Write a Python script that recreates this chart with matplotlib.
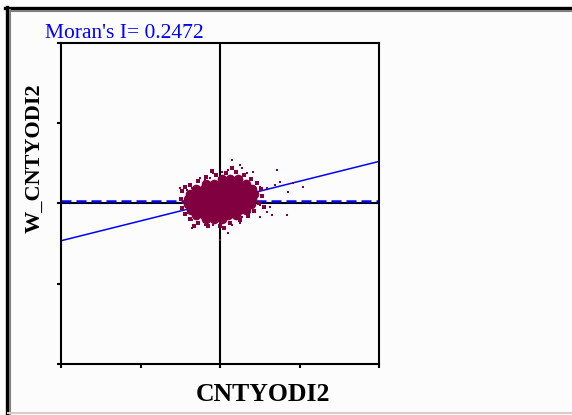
import matplotlib.pyplot as plt
from matplotlib.patches import Rectangle
from matplotlib.lines import Line2D

W, H = 572, 415

# Moran scatter plot values (standardised CNTYODI2 vs spatial lag)
morans_i = 0.2472
lag_mean = 0.06

# dense core of the cloud
core_x = [0.05, 0.25, 0.45,
          -0.35, -0.15, 0.05, 0.25, 0.45, 0.65,
          -0.60, -0.40, -0.20, 0.00, 0.20, 0.40, 0.60, 0.80,
          -0.75, -0.55, -0.35, -0.15, 0.05, 0.25, 0.45, 0.65, 0.85,
          -0.80, -0.60, -0.40, -0.20, 0.00, 0.20, 0.40, 0.60, 0.80,
          -0.80, -0.60, -0.40, -0.20, 0.00, 0.20, 0.40, 0.60, 0.78,
          -0.72, -0.52, -0.32, -0.12, 0.08, 0.28, 0.48, 0.65,
          -0.60, -0.40, -0.20, 0.00, 0.20, 0.40,
          -0.35, -0.15, 0.05]
core_y = [0.60, 0.60, 0.60,
          0.49, 0.49, 0.49, 0.49, 0.49, 0.49,
          0.37, 0.37, 0.37, 0.37, 0.37, 0.37, 0.37, 0.37,
          0.24, 0.24, 0.24, 0.24, 0.24, 0.24, 0.24, 0.24, 0.24,
          0.11, 0.11, 0.11, 0.11, 0.11, 0.11, 0.11, 0.11, 0.11,
          -0.02, -0.02, -0.02, -0.02, -0.02, -0.02, -0.02, -0.02, -0.02,
          -0.15, -0.15, -0.15, -0.15, -0.15, -0.15, -0.15, -0.15,
          -0.28, -0.28, -0.28, -0.28, -0.28, -0.28,
          -0.39, -0.39, -0.39]

# points hugging the edge of the core
edge_x = [-0.95, -0.98, -0.95, -0.88, -0.75, -0.55, -0.30, 0.00, 0.25, 0.50,
          0.70, 0.85, 0.98, 1.05, 1.02, 0.92, 0.78, 0.60, 0.40, 0.15,
          -0.10, -0.35, -0.55, -0.75, -0.88, 1.10, -0.20, 0.30, -0.65, 0.10]
edge_y = [0.30, 0.10, -0.10, -0.25, -0.38, -0.48, -0.55, -0.55, -0.48, -0.40,
          -0.30, -0.18, 0.00, 0.18, 0.35, 0.50, 0.62, 0.72, 0.78, 0.76,
          0.70, 0.65, 0.55, 0.45, 0.40, -0.08, 0.82, 0.88, -0.55, -0.62]

# scattered outliers
out_x = [0.30, 0.50, 0.55, 0.20, 0.05, -0.18, -0.25, -0.38, -0.50, -0.45,
         -0.58, -0.70, -0.83, -1.01, -1.01, -0.93, -0.96, -0.81, -0.70, -0.70,
         -0.55, -0.38, -0.18, 0.20, 0.30, 0.50, 0.55, 0.70, 0.75, 0.88,
         1.01, 1.18, 1.31, 1.69, 1.26, 1.01, 0.88, 0.81, 0.93, 1.01,
         1.18, 1.38, 1.51, 1.43, 2.09, 1.71, 1.84, 0.68, 0.83, 0.75,
         0.63, 0.70, 0.88, 0.00]
out_y = [1.08, 0.96, 0.89, 0.84, 0.79, 0.76, 0.64, 0.59, 0.64, 0.41,
         0.34, 0.39, 0.34, 0.39, 0.14, 0.01, -0.16, -0.24, -0.41, -0.61,
         -0.49, -0.54, -0.54, -0.74, -0.54, -0.49, -0.34, -0.34, -0.21, -0.21,
         -0.34, -0.21, -0.29, -0.29, -0.09, -0.04, 0.04, 0.21, 0.29, 0.41,
         0.39, 0.46, 0.54, 0.84, 0.41, 0.29, 0.51, 0.76, 0.79, 0.64,
         0.54, 0.41, 0.41, -0.91]

x_lim = (-4, 4)
y_lim = (-4, 4)
ticks = [-4, -2, 0, 2, 4]

point_color = "#800040"


def fx(px):
    return px / W


def fy(py):
    return 1 - py / H


fig = plt.figure(figsize=(W / 100, H / 100), dpi=100)
fig.patch.set_facecolor("white")

# window frame
fig.add_artist(Rectangle((fx(5), 0), 1 - fx(5), fy(8), transform=fig.transFigure,
                         facecolor="#fcfcfc", edgecolor="none", zorder=0))
fig.add_artist(Line2D([fx(5), 1], [fy(8.5), fy(8.5)], transform=fig.transFigure,
                      color="black", lw=2.4))
fig.add_artist(Line2D([fx(8), 1], [fy(11), fy(11)], transform=fig.transFigure,
                      color="#808080", lw=1.5))
fig.add_artist(Line2D([fx(6.5), fx(6.5)], [0, fy(7)], transform=fig.transFigure,
                      color="black", lw=2.4))
fig.add_artist(Line2D([fx(9.5), fx(9.5)], [0, fy(10)], transform=fig.transFigure,
                      color="#808080", lw=1.5))
fig.add_artist(Line2D([fx(8), 1], [fy(413), fy(413)], transform=fig.transFigure,
                      color="#d4d0c8", lw=1.5))

ax = fig.add_axes([fx(61), fy(364), (379 - 61) / W, (364 - 43) / H])
ax.set_facecolor("#fcfcfc")
ax.set_xlim(*x_lim)
ax.set_ylim(*y_lim)
ax.set_xticks(ticks)
ax.set_yticks(ticks)
ax.tick_params(direction="out", length=3, width=1.5, labelbottom=False, labelleft=False)
for s in ax.spines.values():
    s.set_linewidth(1.5)
    s.set_color("black")

ax.axvline(0, color="black", lw=1.5, zorder=1)
ax.axhline(0, color="black", lw=1.5, zorder=1)
ax.axhline(lag_mean, color="#0000ff", lw=1.8, ls=(0, (4, 2)), zorder=2)
xs = list(x_lim)
ax.plot(xs, [lag_mean + morans_i * v for v in xs], color="#0000ff", lw=1.1, zorder=2)

ax.scatter(core_x, core_y, s=48, marker="o", color=point_color, lw=0, zorder=3)
ax.scatter(edge_x, edge_y, s=9, marker="s", color=point_color, lw=0, zorder=3)
ax.scatter(out_x, out_y, s=4.5, marker="s", color=point_color, lw=0, zorder=3)

fig.text(fx(45), fy(37.5), "Moran's I= 0.2472", color="#0000ff",
         family="Liberation Serif", fontsize=15.5, va="baseline", ha="left")
fig.text(fx(35), fy(158), "W_CNTYODI2", rotation=90, family="Liberation Serif",
         fontweight="bold", fontsize=16, ha="center", va="center")
fig.text(fx(263), fy(394), "CNTYODI2", family="Liberation Serif",
         fontweight="bold", fontsize=18.5, ha="center", va="center")

fig.savefig("out.png", dpi=100, facecolor=fig.get_facecolor())
